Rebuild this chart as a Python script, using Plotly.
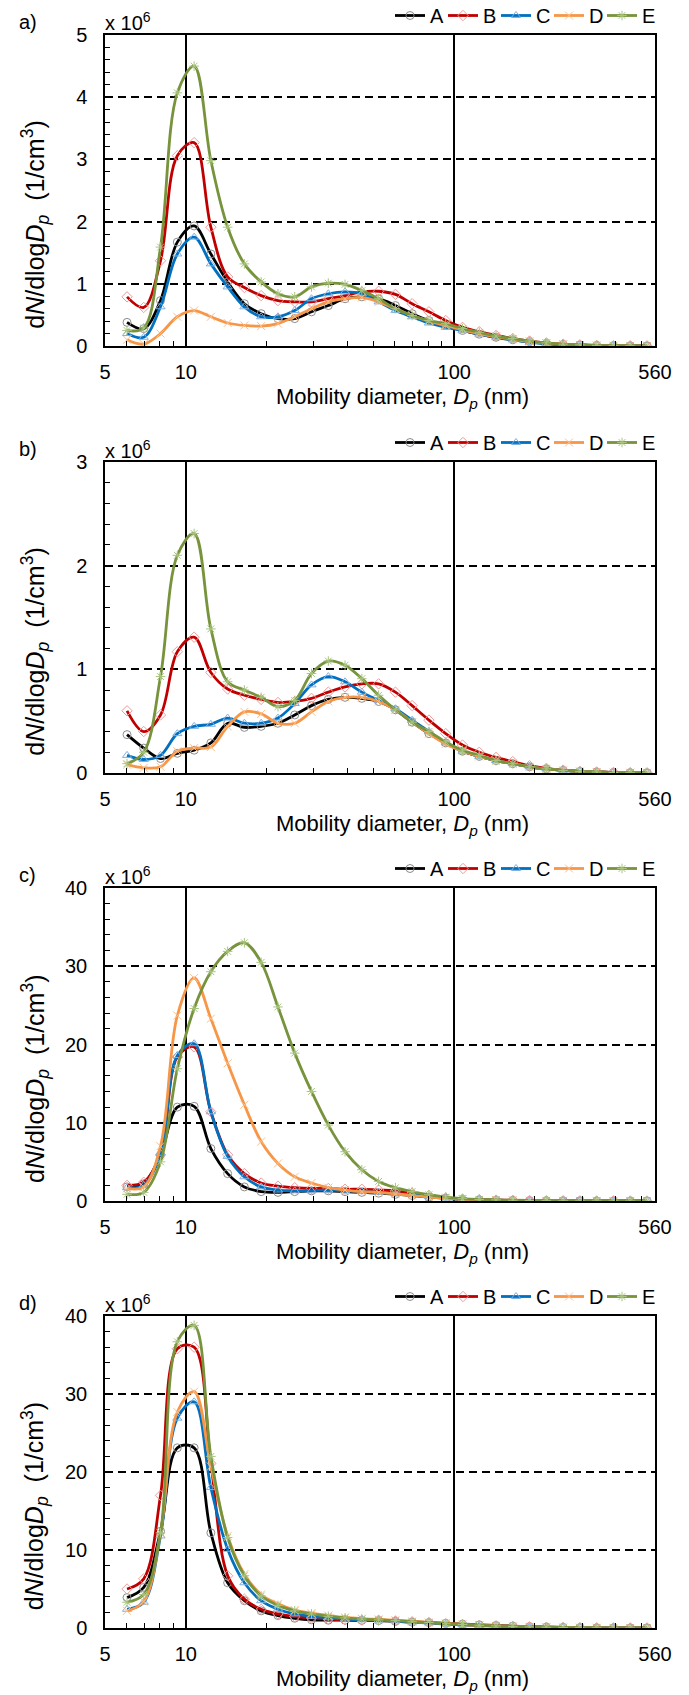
import math
import plotly.graph_objects as go

# ---------------- data ----------------
diameter_nm = [6.04, 6.97, 8.05, 9.30, 10.74, 12.40, 14.32, 16.53, 19.09, 22.05,
               25.46, 29.40, 33.96, 39.21, 45.28, 52.29, 60.4, 69.7, 80.5, 93.0,
               107.4, 124.0, 143.2, 165.3, 190.9, 220.5, 254.6, 294.0, 339.6, 392.1,
               452.8, 522.9]

series_names = ["A", "B", "C", "D", "E"]
panel_labels = ["a)", "b)", "c)", "d)"]
x_tick_values = [5, 10, 100, 560]
x_tick_text = ["5", "10", "100", "560"]
x_minor_ticks = [6, 7, 8, 9, 20, 30, 40, 50, 60, 70, 80, 90, 200, 300, 400, 500]

# panel a (x 10^6 1/cm3)
a_A = [0.38, 0.28, 0.73, 1.67, 1.93, 1.48, 1.03, 0.68, 0.52, 0.44, 0.44, 0.55, 0.65, 0.76, 0.79, 0.76,
       0.65, 0.52, 0.41, 0.33, 0.25, 0.19, 0.14, 0.10, 0.07, 0.04, 0.025, 0.015, 0.01, 0.005, 0.003, 0.002]
a_B = [0.79, 0.62, 1.37, 3.06, 3.27, 1.91, 1.11, 0.94, 0.81, 0.73, 0.71, 0.71, 0.76, 0.81, 0.87, 0.88,
       0.83, 0.68, 0.55, 0.41, 0.30, 0.23, 0.17, 0.12, 0.08, 0.05, 0.03, 0.02, 0.01, 0.006, 0.004, 0.002]
a_C = [0.20, 0.14, 0.63, 1.48, 1.75, 1.32, 0.95, 0.63, 0.47, 0.47, 0.57, 0.76, 0.84, 0.87, 0.84, 0.71,
       0.57, 0.47, 0.37, 0.30, 0.25, 0.19, 0.14, 0.10, 0.06, 0.04, 0.02, 0.012, 0.008, 0.004, 0.003, 0.002]
a_D = [0.10, 0.03, 0.20, 0.47, 0.57, 0.47, 0.37, 0.33, 0.32, 0.36, 0.47, 0.60, 0.71, 0.76, 0.78, 0.71,
       0.60, 0.49, 0.40, 0.33, 0.26, 0.20, 0.15, 0.11, 0.07, 0.045, 0.028, 0.016, 0.01, 0.005, 0.003, 0.002]
a_E = [0.25, 0.29, 1.59, 4.07, 4.50, 2.98, 1.91, 1.32, 1.03, 0.84, 0.79, 0.95, 1.01, 0.99, 0.89, 0.76,
       0.60, 0.49, 0.41, 0.36, 0.28, 0.22, 0.16, 0.12, 0.08, 0.05, 0.03, 0.018, 0.01, 0.006, 0.004, 0.002]

# panel b
b_A = [0.37, 0.24, 0.14, 0.19, 0.22, 0.29, 0.48, 0.44, 0.45, 0.48, 0.56, 0.65, 0.71, 0.73, 0.72, 0.69,
       0.61, 0.49, 0.38, 0.29, 0.21, 0.16, 0.12, 0.09, 0.06, 0.04, 0.025, 0.015, 0.01, 0.005, 0.003, 0.002]
b_B = [0.60, 0.40, 0.56, 1.17, 1.31, 0.97, 0.81, 0.75, 0.71, 0.68, 0.69, 0.72, 0.78, 0.83, 0.86, 0.86,
       0.78, 0.65, 0.51, 0.38, 0.27, 0.20, 0.15, 0.11, 0.07, 0.045, 0.028, 0.016, 0.01, 0.006, 0.004, 0.002]
b_C = [0.17, 0.13, 0.17, 0.38, 0.45, 0.47, 0.53, 0.48, 0.48, 0.53, 0.67, 0.85, 0.93, 0.88, 0.78, 0.70,
       0.62, 0.51, 0.40, 0.29, 0.21, 0.16, 0.12, 0.09, 0.06, 0.04, 0.025, 0.015, 0.01, 0.005, 0.003, 0.002]
b_D = [0.08, 0.05, 0.06, 0.21, 0.24, 0.25, 0.45, 0.59, 0.57, 0.48, 0.48, 0.59, 0.69, 0.73, 0.73, 0.69,
       0.61, 0.49, 0.38, 0.28, 0.21, 0.16, 0.12, 0.09, 0.06, 0.04, 0.025, 0.015, 0.01, 0.005, 0.003, 0.002]
b_E = [0.09, 0.20, 0.93, 2.10, 2.31, 1.39, 0.88, 0.80, 0.73, 0.64, 0.70, 0.96, 1.08, 1.04, 0.91, 0.75,
       0.61, 0.49, 0.40, 0.30, 0.22, 0.17, 0.12, 0.09, 0.06, 0.04, 0.025, 0.015, 0.01, 0.005, 0.003, 0.002]

# panel c
c_A = [1.8, 2.2, 5.9, 12.0, 12.1, 6.7, 3.5, 1.8, 1.2, 1.1, 1.2, 1.3, 1.3, 1.2, 1.1, 1.0,
       0.85, 0.7, 0.5, 0.35, 0.2, 0.15, 0.1, 0.08, 0.05, 0.04, 0.03, 0.02, 0.01, 0.01, 0.005, 0.005]
c_B = [2.0, 2.4, 5.9, 18.4, 19.7, 11.4, 5.9, 3.5, 2.3, 1.9, 1.7, 1.6, 1.6, 1.5, 1.5, 1.4,
       1.3, 1.0, 0.7, 0.4, 0.25, 0.18, 0.12, 0.09, 0.06, 0.04, 0.03, 0.02, 0.01, 0.01, 0.005, 0.005]
c_C = [1.7, 2.0, 6.1, 18.6, 20.1, 11.4, 5.7, 3.1, 1.8, 1.4, 1.3, 1.3, 1.4, 1.3, 1.2, 1.1,
       0.9, 0.8, 0.55, 0.35, 0.2, 0.15, 0.1, 0.08, 0.05, 0.04, 0.03, 0.02, 0.01, 0.01, 0.005, 0.005]
c_D = [1.6, 1.8, 7.0, 23.7, 28.5, 23.3, 17.6, 12.3, 7.6, 4.8, 3.1, 2.3, 1.7, 1.4, 1.2, 1.1,
       0.9, 0.7, 0.5, 0.35, 0.2, 0.15, 0.1, 0.08, 0.05, 0.04, 0.03, 0.02, 0.01, 0.01, 0.005, 0.005]
c_E = [0.85, 1.1, 5.0, 16.9, 24.6, 29.3, 31.9, 33.0, 30.5, 24.8, 18.9, 14.0, 9.7, 6.3, 4.0, 2.5,
       1.7, 1.2, 0.8, 0.5, 0.3, 0.2, 0.15, 0.1, 0.07, 0.05, 0.03, 0.02, 0.01, 0.01, 0.005, 0.005]

# panel d
d_A = [3.9, 5.2, 12.4, 23.1, 23.1, 12.2, 5.8, 3.5, 2.2, 1.6, 1.25, 1.05, 1.0, 1.0, 0.98, 0.95,
       0.85, 0.75, 0.7, 0.6, 0.5, 0.4, 0.32, 0.25, 0.18, 0.12, 0.08, 0.05, 0.03, 0.02, 0.01, 0.01]
d_B = [5.0, 6.3, 17.0, 35.8, 36.0, 21.1, 6.7, 3.7, 2.4, 1.8, 1.45, 1.3, 1.15, 1.05, 1.0, 1.0,
       0.9, 0.8, 0.7, 0.55, 0.45, 0.35, 0.28, 0.2, 0.15, 0.1, 0.07, 0.05, 0.03, 0.02, 0.01, 0.01]
d_C = [2.4, 3.3, 11.8, 26.9, 29.0, 18.0, 10.1, 5.8, 3.5, 2.4, 1.8, 1.5, 1.3, 1.15, 1.05, 1.0,
       0.9, 0.75, 0.65, 0.5, 0.4, 0.3, 0.24, 0.18, 0.13, 0.09, 0.06, 0.04, 0.03, 0.02, 0.01, 0.01]
d_D = [2.2, 3.4, 12.2, 27.7, 30.3, 20.7, 11.8, 6.9, 4.3, 3.1, 2.3, 1.9, 1.6, 1.35, 1.2, 1.1,
       1.0, 0.85, 0.7, 0.6, 0.45, 0.35, 0.28, 0.2, 0.15, 0.1, 0.07, 0.05, 0.03, 0.02, 0.01, 0.01]
d_E = [3.3, 4.3, 12.2, 36.7, 38.8, 22.0, 11.6, 6.7, 4.1, 2.9, 2.2, 1.8, 1.5, 1.3, 1.15, 1.05,
       0.95, 0.8, 0.7, 0.55, 0.45, 0.35, 0.28, 0.2, 0.15, 0.1, 0.07, 0.05, 0.03, 0.02, 0.01, 0.01]

panel_series = [[a_A, a_B, a_C, a_D, a_E],
                [b_A, b_B, b_C, b_D, b_E],
                [c_A, c_B, c_C, c_D, c_E],
                [d_A, d_B, d_C, d_D, d_E]]
panel_ymax = [5, 3, 40, 40]
panel_dtick = [1, 1, 10, 10]
panel_minor = [0.2, 0.2, 2, 2]

# ---------------- style ----------------
line_colors = ["#000000", "#C00000", "#0070C0", "#F79646", "#77933C"]
marker_colors = ["#8C8C8C", "#F19A9A", "#7FB0E0", "#F9C08E", "#A8C47E"]
marker_symbols = ["circle-open", "diamond-open", "triangle-up-open", "x-thin-open", "asterisk-open"]
FONT = "Liberation Sans, Arial, sans-serif"

W, H = 689, 1695
ml, mr, mt, mb = 105, 34, 35, 67
plot_h = H - mt - mb
panel_px = [(35, 346), (462, 773), (888, 1201), (1316, 1628)]


def frac(py):
    return (H - mb - py) / plot_h


fig = go.Figure()
annotations = []
layout = {}

for i in range(4):
    sfx = "" if i == 0 else str(i + 1)
    xa, ya = "x" + sfx, "y" + sfx
    leg = "legend" + sfx
    top, bot = panel_px[i]
    for j, name in enumerate(series_names):
        fig.add_trace(go.Scatter(
            x=diameter_nm, y=panel_series[i][j], name=name, mode="lines+markers",
            line=dict(color=line_colors[j], width=2.8, shape="spline", smoothing=1.0),
            marker=dict(symbol=marker_symbols[j], size=8, color=marker_colors[j],
                        line=dict(color=marker_colors[j], width=1)),
            xaxis=xa, yaxis=ya, legend=leg))

    layout["xaxis" + sfx] = dict(
        domain=[0, 1], anchor=ya, type="log",
        range=[math.log10(5), math.log10(560)],
        tickvals=x_tick_values, ticktext=x_tick_text, ticks="",
        showgrid=True, gridcolor="black", gridwidth=1.5,
        showline=True, linecolor="black", linewidth=1.5, mirror=True,
        tickfont=dict(size=20, family=FONT, color="black"),
        ticklabelstandoff=7,
        minor=dict(tickvals=x_minor_ticks, ticks="inside", ticklen=5,
                   tickcolor="black", tickwidth=1, showgrid=False),
        zeroline=False)
    layout["yaxis" + sfx] = dict(
        domain=[frac(bot), frac(top)], anchor=xa,
        range=[0, panel_ymax[i]], dtick=panel_dtick[i], tick0=0,
        ticks="inside", ticklen=5, tickcolor="black", tickwidth=1,
        showgrid=True, gridcolor="black", gridwidth=1.6, griddash="8px,5px",
        showline=True, linecolor="black", linewidth=1.5, mirror=True,
        zeroline=False,
        tickfont=dict(size=20, family=FONT, color="black"),
        ticklabelstandoff=12,
        minor=dict(dtick=panel_minor[i], ticks="inside", ticklen=5,
                   tickcolor="black", tickwidth=1, showgrid=False))
    layout[leg] = dict(
        orientation="h", x=1.0, xanchor="right", y=frac(top), yanchor="bottom",
        font=dict(size=20, family=FONT, color="black"), itemwidth=30,
        entrywidth=8, entrywidthmode="pixels",
        bgcolor="rgba(255,255,255,0)", borderwidth=0, tracegroupgap=0)

    ph = bot - top
    xd, yd = xa + " domain", ya + " domain"
    annotations += [
        dict(text=panel_labels[i], x=(17 - ml) / 550, y=1 + 13 / ph, xref=xd, yref=yd,
             xanchor="left", yanchor="middle", showarrow=False,
             font=dict(size=20, family=FONT, color="black")),
        dict(text="x 10<sup>6</sup>", x=-0.004, y=1 + 13 / ph, xref=xd, yref=yd,
             xanchor="left", yanchor="middle", showarrow=False,
             font=dict(size=20, family=FONT, color="black")),
        dict(text="d<i>N</i>/dlog<i>D</i><sub><i>p</i></sub>  (1/cm<sup>3</sup>)",
             x=(35 - ml) / 550, y=0.39, xref=xd, yref=yd, textangle=-90,
             xanchor="center", yanchor="middle", showarrow=False,
             font=dict(size=25, family=FONT, color="black")),
        dict(text="Mobility diameter, <i>D</i><sub><i>p</i></sub> (nm)",
             x=0.54, y=-52 / ph, xref=xd, yref=yd,
             xanchor="center", yanchor="middle", showarrow=False,
             font=dict(size=22, family=FONT, color="black")),
    ]

fig.update_layout(
    width=W, height=H, margin=dict(l=ml, r=mr, t=mt, b=mb, autoexpand=False),
    paper_bgcolor="white", plot_bgcolor="white",
    font=dict(family=FONT, color="black"),
    annotations=annotations, **layout)

fig.write_html("out.html")
